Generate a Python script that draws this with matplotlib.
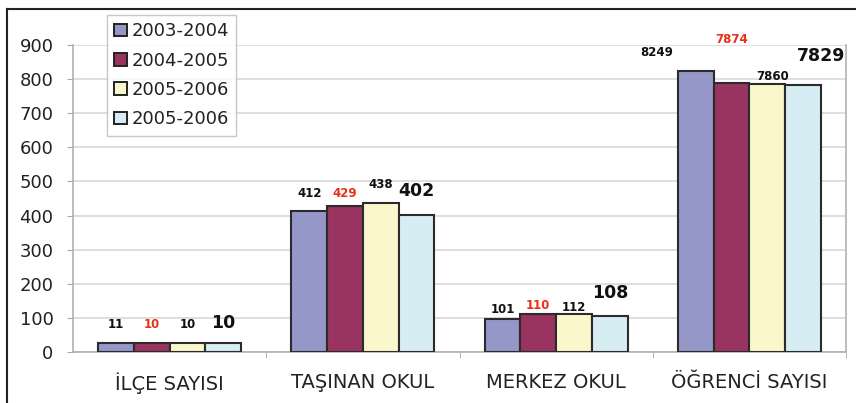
import matplotlib
matplotlib.use("Agg")
import matplotlib.pyplot as plt
from matplotlib.lines import Line2D
import numpy as np

categories = ["İLÇE SAYISI", "TAŞINAN OKUL", "MERKEZ OKUL", "ÖĞRENCİ SAYISI"]
series_names = ["2003-2004", "2004-2005", "2005-2006", "2005-2006"]

# bar heights as drawn (student counts are drawn at 1/10 scale)
s2003 = [25, 412, 98, 825]
s2004 = [25, 429, 110, 788]
s2005 = [25, 438, 110, 787]
s2006 = [25, 402, 105, 783]
heights = [s2003, s2004, s2005, s2006]

# printed value labels
lbl2003 = ["11", "412", "101", "8249"]
lbl2004 = ["10", "429", "110", "7874"]
lbl2005 = ["10", "438", "112", "7860"]
lbl2006 = ["10", "402", "108", "7829"]
labels = [lbl2003, lbl2004, lbl2005, lbl2006]

colors = ["#9697C9", "#993360", "#FBF7CD", "#D5EDF3"]

# label placement (x offset in bar units, y in data units)
lab_dx = [[0, 0, 0, -1.1], [0, 0, 0, 0], [0, 0, 0, 0.15], [0, 0, 0, 0.5]]
lab_y = [[80, 466, 126, 878], [80, 466, 135, 915], [80, 490, 129, 807], [84, 472, 172, 868]]
lab_style = [dict(fontsize=8.5, color="#111111", fontweight="bold"),
             dict(fontsize=8.5, color="#E8301A", fontweight="bold"),
             dict(fontsize=8.5, color="#111111", fontweight="bold"),
             dict(fontsize=12.5, color="#111111", fontweight="bold")]

fig = plt.figure(figsize=(8.56, 4.03), dpi=100)
ax = fig.add_axes([73/856, 1-352/403, (846-73)/856, (352-45)/403])

x = np.arange(len(categories))
bw = 0.185
for i, (h, c) in enumerate(zip(heights, colors)):
    pos = x + (i - 1.5) * bw
    ax.bar(pos, h, width=bw, color=c, edgecolor="#2b2b2b", linewidth=1.5,
           label=series_names[i], zorder=3)
    for j in range(len(categories)):
        ax.text(pos[j] + lab_dx[i][j] * bw, lab_y[i][j], labels[i][j],
                ha="center", va="center", zorder=5, **lab_style[i])

ax.set_xlim(-0.5, 3.5)
ax.set_ylim(0, 900)
ax.set_yticks(np.arange(0, 901, 100))
ax.yaxis.grid(True, color="#d8d8d8", linewidth=1.2, zorder=0)
ax.set_axisbelow(True)
ax.set_xticks(x)
ax.set_xticklabels(categories, fontsize=14, color="#222222")
ax.set_xticks(np.arange(0.5, 4, 1), minor=True)
ax.tick_params(axis="x", which="major", length=0, pad=15)
ax.tick_params(axis="x", which="minor", length=4, color="#aaaaaa", direction="out")
ax.tick_params(axis="y", length=4, color="#aaaaaa", labelsize=13, labelcolor="#222222", pad=10)
for s in ["left", "bottom", "right"]:
    ax.spines[s].set_color("#b0b0b0")
    ax.spines[s].set_linewidth(1.2)
ax.spines["top"].set_visible(False)

leg = ax.legend(loc="upper left", bbox_to_anchor=(107/856, 1-15/403),
                bbox_transform=fig.transFigure, fontsize=13, frameon=True,
                fancybox=False, shadow=False, handlelength=0.7, handleheight=0.7,
                handletextpad=0.25, labelspacing=0.63, borderpad=0.4,
                borderaxespad=0)
leg.get_frame().set_edgecolor("#bbbbbb")
leg.get_frame().set_linewidth(1.0)
for t in leg.get_texts():
    t.set_color("#222222")
for p in leg.get_patches():
    p.set_edgecolor("#222222")
    p.set_linewidth(1.4)
leg.set_zorder(10)

# outer frame (left and top)
fig.add_artist(Line2D([7/856, 7/856], [0, 1-9/403], color="#222222", linewidth=1.5,
                      transform=fig.transFigure))
fig.add_artist(Line2D([7/856, 1], [1-9/403, 1-9/403], color="#222222", linewidth=1.5,
                      transform=fig.transFigure))

fig.savefig("out.png", dpi=100)
